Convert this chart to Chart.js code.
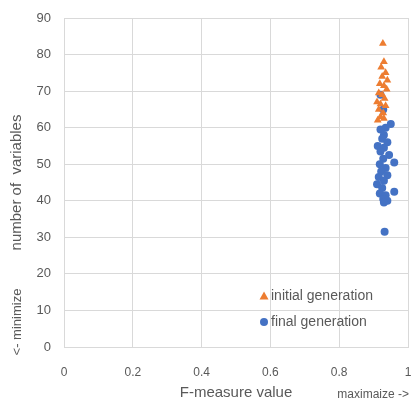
<!DOCTYPE html>
<html>
<head>
<meta charset="utf-8">
<script src="https://cdn.jsdelivr.net/npm/chart.js@4"></script>
<style>
  html, body { margin: 0; padding: 0; background: #fff; }
  #wrap { width: 414px; height: 405px; position: relative; }
</style>
</head>
<body>
<div id="wrap"><canvas id="chart"></canvas></div>
<script>
// data
const seriesNames = ['initial generation', 'final generation'];
const initialF = [0.927, 0.93, 0.922, 0.935, 0.925, 0.94, 0.918, 0.93, 0.938, 0.915, 0.925, 0.932, 0.91, 0.92, 0.935, 0.915, 0.928, 0.92, 0.93, 0.912];
const initialVars = [83, 78, 76.5, 75, 74, 73, 72, 71.5, 70.5, 69.5, 69, 68, 67, 66.5, 66, 65, 64, 63, 62.5, 62];
const finalF = [0.92, 0.928, 0.95, 0.935, 0.92, 0.93, 0.925, 0.94, 0.912, 0.93, 0.92, 0.945, 0.928, 0.96, 0.918, 0.935, 0.922, 0.94, 0.915, 0.93, 0.91, 0.925, 0.96, 0.918, 0.935, 0.928, 0.94, 0.93, 0.932];
const finalVars = [69, 65, 61, 60, 59.5, 58, 57, 56, 55, 54.5, 53.5, 52.5, 51.5, 50.5, 50, 49, 48, 47, 46.5, 45.5, 44.5, 43.5, 42.5, 42, 41.5, 40.5, 40, 39.5, 31.5];
const xTitle = 'F-measure value';
const xNote = 'maximaize ->';
const yTitle = 'number of  variables';
const yNote = '<- minimize';

const orange = '#ED7D31';
const blue = '#4472C4';
const textGray = '#595959';
const gridGray = '#d9d9d9';

function toPoints(xs, ys) {
  return xs.map((x, i) => ({ x: x, y: ys[i] }));
}

// extra labels and the in-plot legend
const notesPlugin = {
  id: 'notes',
  afterDraw(chart) {
    const ctx = chart.ctx;
    ctx.save();
    ctx.fillStyle = textGray;
    ctx.textBaseline = 'middle';

    // "<- minimize" under the y title
    ctx.font = '13px "Liberation Sans"';
    ctx.save();
    ctx.translate(17, 322);
    ctx.rotate(-Math.PI / 2);
    ctx.textAlign = 'center';
    ctx.fillText(yNote, 0, 0);
    ctx.restore();

    // "maximaize ->" right of the x title
    ctx.font = '12px "Liberation Sans"';
    ctx.textAlign = 'right';
    ctx.fillText(xNote, 409, 395);

    // legend inside the plot
    ctx.font = '14px "Liberation Sans"';
    ctx.textAlign = 'left';
    const rows = [296, 322];
    chart.data.datasets.forEach((ds, i) => {
      const y = rows[i];
      const x = 264;
      ctx.fillStyle = ds.backgroundColor;
      ctx.beginPath();
      if (ds.pointStyle === 'triangle') {
        ctx.moveTo(x, y - 4.5);
        ctx.lineTo(x + 4.5, y + 3.5);
        ctx.lineTo(x - 4.5, y + 3.5);
        ctx.closePath();
      } else {
        ctx.arc(x, y, 4, 0, Math.PI * 2);
      }
      ctx.fill();
      ctx.fillStyle = textGray;
      ctx.fillText(ds.label, x + 7, y);
    });
    ctx.restore();
  }
};

new Chart(document.getElementById('chart'), {
  type: 'scatter',
  data: {
    datasets: [
      {
        label: seriesNames[0],
        data: toPoints(initialF, initialVars),
        pointStyle: 'triangle',
        pointRadius: 4.5,
        backgroundColor: orange,
        borderColor: orange,
        borderWidth: 0
      },
      {
        label: seriesNames[1],
        data: toPoints(finalF, finalVars),
        pointStyle: 'circle',
        pointRadius: 4,
        backgroundColor: blue,
        borderColor: blue,
        borderWidth: 0
      }
    ]
  },
  options: {
    responsive: true,
    maintainAspectRatio: false,
    animation: false,
    layout: { padding: { left: 0, right: 6, top: 18, bottom: 0 } },
    plugins: {
      legend: { display: false },
      tooltip: { enabled: false }
    },
    scales: {
      x: {
        type: 'linear',
        min: 0,
        max: 1,
        ticks: {
          stepSize: 0.2,
          padding: 18,
          color: textGray,
          font: { family: 'Liberation Sans', size: 12 },
          callback: v => String(Math.round(v * 10) / 10)
        },
        grid: { color: gridGray, drawTicks: false },
        border: { color: gridGray },
        title: {
          display: true,
          text: xTitle,
          color: textGray,
          font: { family: 'Liberation Sans', size: 15 },
          padding: { top: 0, bottom: 3 }
        },
        afterFit(scale) {
          scale.height = 58;
          scale.paddingLeft = 0;
          scale.paddingRight = 0;
        }
      },
      y: {
        type: 'linear',
        min: 0,
        max: 90,
        ticks: {
          stepSize: 10,
          padding: 13,
          color: textGray,
          font: { family: 'Liberation Sans', size: 13 }
        },
        grid: { color: gridGray, drawTicks: false },
        border: { color: gridGray },
        title: {
          display: true,
          text: yTitle,
          color: textGray,
          font: { family: 'Liberation Sans', size: 15 },
          padding: { top: 8, bottom: 0 }
        },
        afterFit(scale) {
          scale.width = 64;
          scale.paddingTop = 0;
          scale.paddingBottom = 0;
        }
      }
    }
  },
  plugins: [notesPlugin]
});
</script>
</body>
</html>
